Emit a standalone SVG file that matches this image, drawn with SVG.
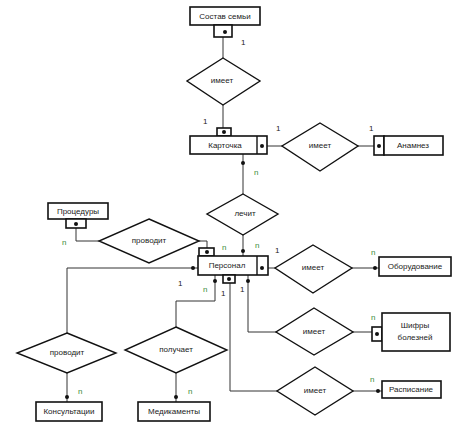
<svg xmlns="http://www.w3.org/2000/svg" width="459" height="428" viewBox="0 0 459 428">
<style>
.ent{fill:#fff;stroke:#111;stroke-width:1.6}
.rel{fill:#fff;stroke:#111;stroke-width:1.4}
.ln{fill:none;stroke:#333;stroke-width:1}
.dot{fill:#111}
.t{font-family:"Liberation Sans",Arial,sans-serif;font-size:8px;fill:#222;text-anchor:middle}
.c{font-family:"Liberation Sans",Arial,sans-serif;font-size:8px;fill:#222}
.n{font-family:"Liberation Sans",Arial,sans-serif;font-size:8px;fill:#3a8a3a}
</style>
<rect width="459" height="428" fill="#fff"/>
<g id="connectors">
<path class="ln" d="M223,37V58M223,105V128"/>
<path class="ln" d="M267,146H282M358,146H374"/>
<path class="ln" d="M243,154V194M243,235V256"/>
<path class="ln" d="M76,228V241H99M199,241H207V248"/>
<path class="ln" d="M198,268H67V333M67,373V402"/>
<path class="ln" d="M215,275V301H176V327M176,373V402"/>
<path class="ln" d="M230,283V391H277M353,391H382"/>
<path class="ln" d="M248,275V332H276M353,332H372"/>
<path class="ln" d="M268,268H275M352,268H379"/>
<circle class="dot" cx="225" cy="32" r="2"/>
<circle class="dot" cx="224" cy="132" r="2"/>
<circle class="dot" cx="262" cy="146" r="2"/>
<circle class="dot" cx="379" cy="146" r="2"/>
<circle class="dot" cx="243" cy="163" r="2"/>
<circle class="dot" cx="76" cy="224" r="2"/>
<circle class="dot" cx="207" cy="252" r="2"/>
<circle class="dot" cx="243" cy="251" r="2"/>
<circle class="dot" cx="193" cy="268" r="2"/>
<circle class="dot" cx="262" cy="268" r="2"/>
<circle class="dot" cx="215" cy="281" r="2"/>
<circle class="dot" cx="229" cy="279" r="2"/>
<circle class="dot" cx="248" cy="281" r="2"/>
<circle class="dot" cx="375" cy="268" r="2"/>
<circle class="dot" cx="377" cy="334" r="2"/>
<circle class="dot" cx="378" cy="391" r="2"/>
<circle class="dot" cx="67" cy="397" r="2"/>
<circle class="dot" cx="176" cy="397" r="2"/>
<text class="c" x="241" y="45">1</text>
<text class="c" x="203" y="124">1</text>
<text class="c" x="276" y="131">1</text>
<text class="c" x="369" y="131">1</text>
<text class="n" x="254" y="175">n</text>
<text class="n" x="62" y="245">n</text>
<text class="n" x="222" y="250">n</text>
<text class="n" x="255" y="248">n</text>
<text class="c" x="275" y="253">1</text>
<text class="c" x="178" y="286">1</text>
<text class="n" x="203" y="292">n</text>
<text class="c" x="221" y="296">1</text>
<text class="c" x="240" y="292">1</text>
<text class="n" x="371" y="255">n</text>
<text class="n" x="371" y="320">n</text>
<text class="n" x="370" y="382">n</text>
<text class="n" x="78" y="394">n</text>
<text class="n" x="188" y="394">n</text>
</g>
<g id="sostav">
<rect class="ent" x="190" y="7" width="70" height="18"/>
<rect class="ent" x="214" y="25" width="18" height="12"/>
<circle class="dot" cx="225" cy="32" r="2"/>
<text class="t" x="225" y="19">Состав семьи</text>
</g>
<g id="imeet1">
<polygon class="rel" points="223,58 260,81 223,105 187,81"/>
<text class="t" x="222" y="83">имеет</text>
</g>
<g id="kartochka">
<rect class="ent" x="217" y="128" width="14" height="8"/>
<rect class="ent" x="190" y="136" width="77" height="18"/>
<line class="ln" x1="257" y1="136" x2="257" y2="154" style="stroke:#111;stroke-width:1.4"/>
<circle class="dot" cx="224" cy="132" r="2"/>
<circle class="dot" cx="262" cy="146" r="2"/>
<text class="t" x="225" y="148">Карточка</text>
</g>
<g id="imeet2">
<polygon class="rel" points="320,123 358,146 320,171 282,146"/>
<text class="t" x="320" y="148">имеет</text>
</g>
<g id="anamnez">
<rect class="ent" x="374" y="136" width="10" height="19"/>
<rect class="ent" x="384" y="136" width="59" height="19"/>
<circle class="dot" cx="379" cy="146" r="2"/>
<text class="t" x="413" y="148">Анамнез</text>
</g>
<g id="lechit">
<polygon class="rel" points="243,194 278,214 243,235 207,214"/>
<text class="t" x="245" y="216">лечит</text>
</g>
<g id="procedury">
<rect class="ent" x="48" y="203" width="60" height="16"/>
<rect class="ent" x="66" y="219" width="20" height="9"/>
<circle class="dot" cx="76" cy="224" r="2"/>
<text class="t" x="78" y="214">Процедуры</text>
</g>
<g id="provodit1">
<polygon class="rel" points="149,219 199,241 149,263 99,241"/>
<text class="t" x="149" y="243">проводит</text>
</g>
<g id="personal">
<rect class="ent" x="199" y="248" width="15" height="8"/>
<rect class="ent" x="198" y="256" width="70" height="19"/>
<line x1="257" y1="256" x2="257" y2="275" style="stroke:#111;stroke-width:1.4"/>
<rect class="ent" x="223" y="275" width="12" height="8"/>
<circle class="dot" cx="207" cy="252" r="2"/>
<circle class="dot" cx="262" cy="268" r="2"/>
<circle class="dot" cx="229" cy="279" r="2"/>
<text class="t" x="227" y="268">Персонал</text>
</g>
<g id="imeet3">
<polygon class="rel" points="313,245 352,268 313,293 275,268"/>
<text class="t" x="313" y="270">имеет</text>
</g>
<g id="oborudovanie">
<rect class="ent" x="379" y="257" width="72" height="19"/>
<text class="t" x="415" y="269">Оборудование</text>
</g>
<g id="imeet4">
<polygon class="rel" points="314,308 353,332 314,355 276,332"/>
<text class="t" x="314" y="334">имеет</text>
</g>
<g id="shifry">
<rect class="ent" x="372" y="327" width="10" height="14"/>
<rect class="ent" x="382" y="313" width="68" height="38"/>
<circle class="dot" cx="377" cy="334" r="2"/>
<text class="t" x="415" y="328">Шифры</text>
<text class="t" x="415" y="340">болезней</text>
</g>
<g id="imeet5">
<polygon class="rel" points="315,367 353,391 315,415 277,391"/>
<text class="t" x="315" y="393">имеет</text>
</g>
<g id="raspisanie">
<rect class="ent" x="382" y="381" width="59" height="17"/>
<text class="t" x="411" y="392">Расписание</text>
</g>
<g id="provodit2">
<polygon class="rel" points="67,333 116,353 67,373 17,353"/>
<text class="t" x="67" y="355">проводит</text>
</g>
<g id="konsultacii">
<rect class="ent" x="36" y="402" width="66" height="19"/>
<text class="t" x="69" y="414">Консультации</text>
</g>
<g id="poluchaet">
<polygon class="rel" points="176,327 227,350 176,373 125,350"/>
<text class="t" x="176" y="352">получает</text>
</g>
<g id="medikamenty">
<rect class="ent" x="138" y="402" width="72" height="19"/>
<text class="t" x="174" y="414">Медикаменты</text>
</g>
</svg>
